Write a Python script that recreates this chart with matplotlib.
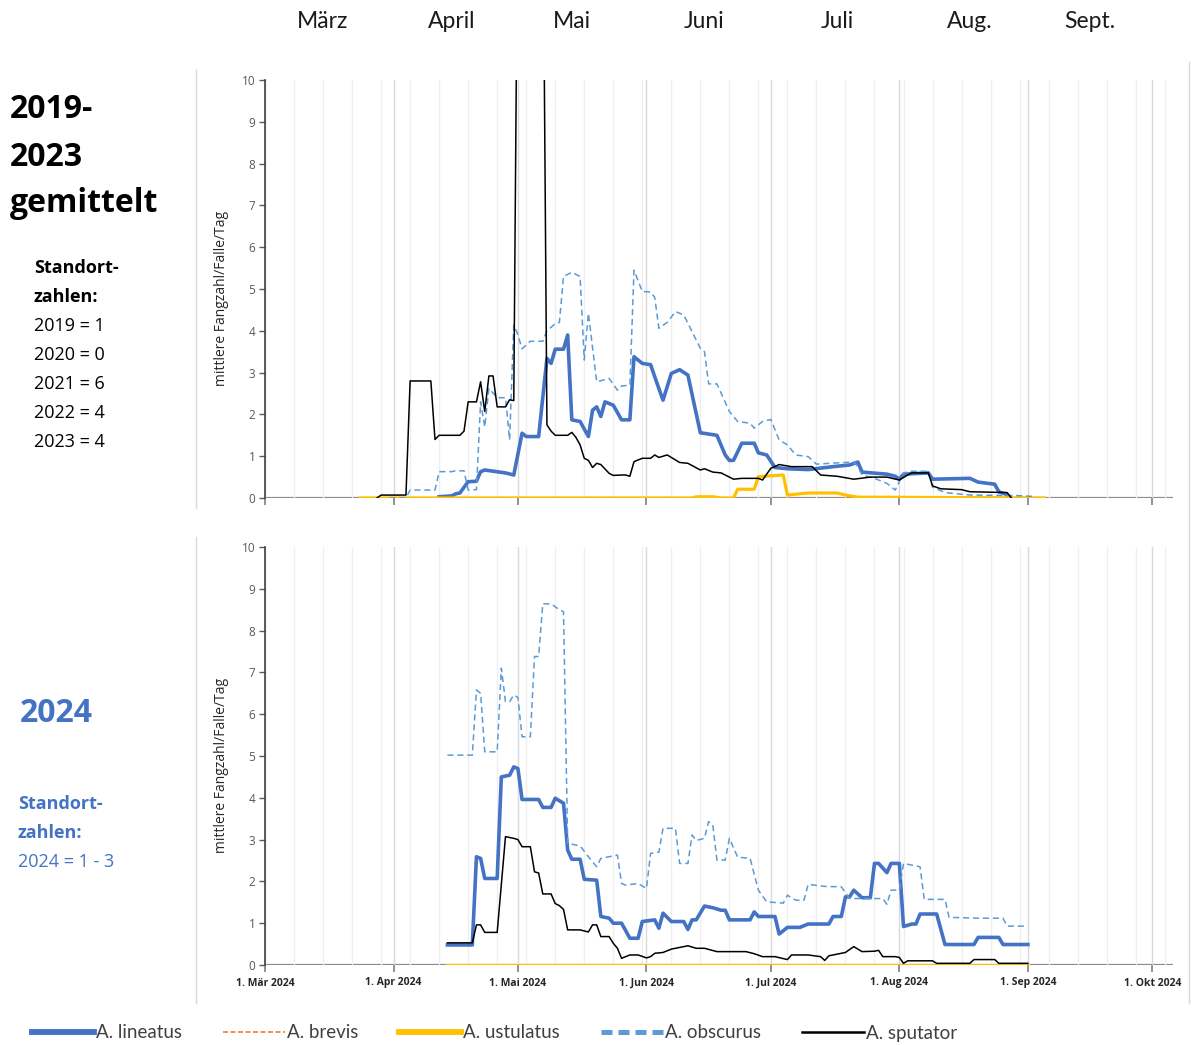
import datetime as dt
import matplotlib
matplotlib.use("Agg")
import matplotlib.pyplot as plt
from matplotlib.lines import Line2D
from matplotlib.transforms import blended_transform_factory

# Farben (Excel Standard)
BLAU = "#4472C4"
HELLBLAU = "#5B9BD5"
ORANGE = "#ED7D31"
GELB = "#FFC000"
SCHWARZ = "#000000"

arten = ["A. lineatus", "A. brevis", "A. ustulatus", "A. obscurus", "A. sputator"]

monat_namen = ["März", "April", "Mai", "Juni", "Juli", "Aug.", "Sept."]
monat_tag = [15, 15, 14, 15, 17, 18, 16]
monats_ticks = ["1. Mär 2024", "1. Apr 2024", "1. Mai 2024", "1. Jun 2024",
                "1. Jul 2024", "1. Aug 2024", "1. Sep 2024", "1. Okt 2024"]

links_oben = ["2019-", "2023", "gemittelt"]
standorte_oben = ["2019 = 1", "2020 = 0", "2021 = 6", "2022 = 4", "2023 = 4"]
links_unten = "2024"
standorte_unten = ["2024 = 1 - 3"]

# ---------------- 2019-2023 gemittelt ----------------
m_lin_tage = ["04-12", "04-15", "04-16", "04-17", "04-19", "04-21", "04-22", "04-23", "04-28", "04-30",
              "05-02", "05-03", "05-06", "05-08", "05-09", "05-10", "05-12", "05-13", "05-14", "05-16",
              "05-18", "05-19", "05-20", "05-21", "05-22", "05-24", "05-26", "05-28", "05-29", "05-31",
              "06-02", "06-03", "06-05", "06-07", "06-09", "06-11", "06-14", "06-18", "06-20", "06-21",
              "06-22", "06-24", "06-27", "06-28", "06-30", "07-02", "07-05", "07-10", "07-16", "07-20",
              "07-22", "07-23", "07-29", "07-31", "08-01", "08-02", "08-08", "08-09", "08-18", "08-20",
              "08-24", "08-25", "08-27", "08-28"]
m_lin_werte = [0.03, 0.05, 0.1, 0.12, 0.39, 0.4, 0.63, 0.67, 0.6, 0.55,
               1.55, 1.47, 1.47, 3.34, 3.22, 3.56, 3.56, 3.9, 1.87, 1.83,
               1.47, 2.1, 2.18, 1.95, 2.3, 2.22, 1.87, 1.87, 3.38, 3.22,
               3.19, 2.9, 2.34, 2.98, 3.07, 2.94, 1.56, 1.5, 1.03, 0.9,
               0.9, 1.31, 1.31, 1.08, 1.03, 0.73, 0.7, 0.68, 0.75, 0.79,
               0.86, 0.62, 0.57, 0.52, 0.45, 0.57, 0.6, 0.45, 0.47, 0.38,
               0.33, 0.15, 0.08, 0.0]

m_bre_tage = ["03-24", "09-05"]
m_bre_werte = [0.0, 0.0]

m_ust_tage = ["03-24", "06-12", "06-13", "06-17", "06-19", "06-22", "06-23", "06-27", "06-28", "07-04",
              "07-05", "07-10", "07-17", "07-19", "07-22", "09-05"]
m_ust_werte = [0.0, 0.0, 0.03, 0.03, 0.0, 0.0, 0.21, 0.21, 0.51, 0.55,
               0.07, 0.12, 0.12, 0.07, 0.02, 0.0]

m_obs_tage = ["03-31", "04-04", "04-05", "04-11", "04-12", "04-15", "04-16", "04-18", "04-19", "04-21",
              "04-22", "04-23", "04-24", "04-26", "04-28", "04-29", "04-30", "05-01", "05-02", "05-04",
              "05-07", "05-08", "05-10", "05-11", "05-12", "05-14", "05-16", "05-17", "05-18", "05-20",
              "05-23", "05-25", "05-26", "05-28", "05-29", "05-31", "06-02", "06-03", "06-04", "06-06",
              "06-08", "06-10", "06-12", "06-14", "06-15", "06-16", "06-18", "06-21", "06-23", "06-26",
              "06-27", "06-29", "07-01", "07-03", "07-05", "07-07", "07-10", "07-12", "07-17", "07-21",
              "07-22", "07-23", "07-26", "07-29", "07-31", "08-02", "08-04", "08-08", "08-09", "08-12",
              "08-18", "08-29", "09-02"]
m_obs_werte = [0.0, 0.0, 0.19, 0.19, 0.63, 0.63, 0.65, 0.65, 0.19, 0.2,
               2.3, 1.7, 2.62, 2.4, 2.4, 1.39, 4.14, 3.9, 3.57, 3.75,
               3.75, 4.0, 4.17, 4.2, 5.3, 5.4, 5.3, 3.3, 4.42, 2.78,
               2.86, 2.58, 2.68, 2.7, 5.45, 4.94, 4.93, 4.8, 4.06, 4.2,
               4.46, 4.38, 3.98, 3.58, 3.5, 2.73, 2.73, 2.07, 1.83, 1.79,
               1.67, 1.83, 1.88, 1.39, 1.27, 1.03, 0.99, 0.81, 0.84, 0.86,
               0.75, 0.55, 0.47, 0.35, 0.19, 0.6, 0.64, 0.64, 0.26, 0.13,
               0.07, 0.06, 0.04]

m_spu_tage = ["03-28", "03-29", "04-04", "04-05", "04-10", "04-11", "04-12", "04-17", "04-18", "04-19",
              "04-21", "04-22", "04-23", "04-24", "04-25", "04-26", "04-28", "04-29", "04-30", "05-01",
              "05-07", "05-08", "05-09", "05-10", "05-13", "05-14", "05-15", "05-16", "05-17", "05-18",
              "05-19", "05-20", "05-21", "05-23", "05-24", "05-26", "05-27", "05-28", "05-29", "05-31",
              "06-02", "06-03", "06-04", "06-06", "06-09", "06-11", "06-14", "06-15", "06-17", "06-19",
              "06-22", "06-24", "06-28", "06-29", "07-01", "07-03", "07-06", "07-11", "07-13", "07-17",
              "07-21", "07-25", "07-29", "08-01", "08-03", "08-04", "08-08", "08-09", "08-11", "08-16",
              "08-18", "08-27", "08-28"]
m_spu_werte = [0.0, 0.07, 0.07, 2.8, 2.8, 1.4, 1.5, 1.5, 1.6, 2.3,
               2.3, 2.78, 2.07, 2.92, 2.92, 2.18, 2.18, 2.35, 2.33, 15.0,
               15.0, 1.75, 1.6, 1.5, 1.5, 1.57, 1.45, 1.27, 0.95, 0.9,
               0.73, 0.83, 0.8, 0.59, 0.54, 0.55, 0.55, 0.52, 0.87, 0.95,
               0.95, 1.03, 0.97, 1.03, 0.85, 0.83, 0.67, 0.7, 0.62, 0.6,
               0.45, 0.47, 0.47, 0.43, 0.71, 0.8, 0.75, 0.75, 0.55, 0.52,
               0.45, 0.5, 0.5, 0.43, 0.55, 0.6, 0.6, 0.29, 0.22, 0.2,
               0.15, 0.13, 0.0]

# ---------------- 2024 ----------------
j_lin_tage = ["04-14", "04-20", "04-21", "04-22", "04-23", "04-26", "04-27", "04-29", "04-30", "05-01",
              "05-02", "05-06", "05-07", "05-09", "05-10", "05-12", "05-13", "05-14", "05-16", "05-17",
              "05-20", "05-21", "05-23", "05-24", "05-26", "05-28", "05-30", "05-31", "06-03", "06-04",
              "06-05", "06-07", "06-10", "06-11", "06-12", "06-13", "06-15", "06-17", "06-19", "06-20",
              "06-21", "06-26", "06-27", "06-28", "07-02", "07-03", "07-05", "07-08", "07-10", "07-15",
              "07-16", "07-18", "07-19", "07-20", "07-21", "07-23", "07-25", "07-26", "07-27", "07-29",
              "07-30", "08-01", "08-02", "08-04", "08-05", "08-06", "08-10", "08-12", "08-19", "08-20",
              "08-25", "08-26", "09-01"]
j_lin_werte = [0.48, 0.48, 2.59, 2.55, 2.07, 2.07, 4.5, 4.54, 4.74, 4.7,
               3.96, 3.96, 3.77, 3.77, 3.99, 3.87, 2.75, 2.53, 2.53, 2.05,
               2.03, 1.16, 1.12, 1.0, 1.0, 0.64, 0.64, 1.04, 1.08, 0.88,
               1.24, 1.04, 1.04, 0.85, 1.08, 1.08, 1.41, 1.37, 1.31, 1.31,
               1.08, 1.08, 1.27, 1.16, 1.16, 0.74, 0.9, 0.9, 0.98, 0.98,
               1.16, 1.16, 1.63, 1.63, 1.79, 1.61, 1.61, 2.43, 2.43, 2.21,
               2.43, 2.43, 0.92, 0.98, 0.98, 1.22, 1.22, 0.49, 0.49, 0.66,
               0.66, 0.49, 0.49]

j_bre_tage = ["04-14", "09-01"]
j_bre_werte = [0.0, 0.0]

j_ust_tage = ["04-14", "09-01"]
j_ust_werte = [0.0, 0.0]

j_obs_tage = ["04-14", "04-20", "04-21", "04-22", "04-23", "04-26", "04-27", "04-28", "04-29", "04-30",
              "05-01", "05-02", "05-04", "05-05", "05-06", "05-07", "05-09", "05-11", "05-12", "05-13",
              "05-16", "05-18", "05-20", "05-21", "05-25", "05-26", "05-27", "05-30", "06-01", "06-02",
              "06-04", "06-05", "06-08", "06-09", "06-11", "06-12", "06-13", "06-15", "06-16", "06-17",
              "06-18", "06-20", "06-21", "06-23", "06-26", "06-28", "06-30", "07-04", "07-05", "07-07",
              "07-09", "07-10", "07-14", "07-18", "07-20", "07-28", "07-29", "07-30", "08-01", "08-02",
              "08-06", "08-07", "08-12", "08-13", "08-20", "08-26", "08-27", "09-01"]
j_obs_werte = [5.02, 5.02, 6.58, 6.5, 5.1, 5.1, 7.1, 6.3, 6.3, 6.46,
               6.4, 5.46, 5.46, 7.38, 7.38, 8.64, 8.64, 8.5, 8.45, 2.91,
               2.85, 2.59, 2.35, 2.55, 2.63, 1.95, 1.91, 1.95, 1.83, 2.67,
               2.7, 3.27, 3.27, 2.43, 2.43, 3.11, 2.98, 3.03, 3.43, 3.35,
               2.51, 2.51, 3.03, 2.58, 2.55, 1.79, 1.51, 1.48, 1.67, 1.55,
               1.55, 1.93, 1.88, 1.87, 1.59, 1.59, 1.45, 1.79, 1.79, 2.43,
               2.35, 1.57, 1.57, 1.14, 1.12, 1.12, 0.93, 0.93]

j_spu_tage = ["04-14", "04-20", "04-21", "04-22", "04-23", "04-26", "04-28", "04-30", "05-01", "05-02",
              "05-04", "05-05", "05-06", "05-07", "05-09", "05-10", "05-11", "05-12", "05-13", "05-16",
              "05-18", "05-19", "05-20", "05-21", "05-23", "05-24", "05-25", "05-26", "05-28", "05-30",
              "06-01", "06-02", "06-03", "06-05", "06-07", "06-09", "06-11", "06-13", "06-15", "06-18",
              "06-25", "06-27", "06-29", "07-02", "07-05", "07-06", "07-10", "07-13", "07-14", "07-15",
              "07-19", "07-21", "07-23", "07-26", "07-27", "07-28", "07-31", "08-01", "08-02", "08-03",
              "08-09", "08-10", "08-18", "08-19", "08-24", "08-25", "09-01"]
j_spu_werte = [0.53, 0.53, 0.96, 0.96, 0.78, 0.78, 3.07, 3.03, 3.0, 2.83,
               2.83, 2.23, 2.2, 1.7, 1.7, 1.47, 1.42, 1.33, 0.84, 0.84,
               0.79, 0.96, 0.96, 0.68, 0.68, 0.52, 0.4, 0.16, 0.24, 0.24,
               0.17, 0.2, 0.28, 0.3, 0.38, 0.42, 0.46, 0.4, 0.4, 0.32,
               0.32, 0.27, 0.2, 0.2, 0.13, 0.24, 0.24, 0.2, 0.11, 0.22,
               0.3, 0.44, 0.32, 0.33, 0.35, 0.2, 0.2, 0.18, 0.04, 0.1,
               0.1, 0.04, 0.04, 0.13, 0.13, 0.04, 0.04]


def datum(tage):
    return [dt.date(2024, int(t[:2]), int(t[3:])) for t in tage]


# Linienstile pro Art: Farbe, Breite, Strichart
stil = {
    "A. lineatus": dict(color=BLAU, lw=2.6, ls="-"),
    "A. brevis": dict(color=ORANGE, lw=1.0, ls=(0, (3, 2))),
    "A. ustulatus": dict(color=GELB, lw=2.3, ls="-"),
    "A. obscurus": dict(color=HELLBLAU, lw=1.1, ls=(0, (4, 2.5))),
    "A. sputator": dict(color=SCHWARZ, lw=1.1, ls="-"),
}

oben = [(m_lin_tage, m_lin_werte), (m_bre_tage, m_bre_werte), (m_ust_tage, m_ust_werte),
        (m_obs_tage, m_obs_werte), (m_spu_tage, m_spu_werte)]
unten = [(j_lin_tage, j_lin_werte), (j_bre_tage, j_bre_werte), (j_ust_tage, j_ust_werte),
         (j_obs_tage, j_obs_werte), (j_spu_tage, j_spu_werte)]

SCHRIFT = ["Open Sans", "DejaVu Sans"]

W, H = 1192, 1045
fig = plt.figure(figsize=(W / 100, H / 100), dpi=100)
ax1 = fig.add_axes([265 / W, 1 - 498 / H, 908 / W, 418 / H])
ax2 = fig.add_axes([265 / W, 1 - 965 / H, 908 / W, 418 / H])

monatsanfang = [dt.date(2024, m, 1) for m in range(3, 11)]
wochen = [dt.date(2024, 3, 1) + dt.timedelta(days=7 * k) for k in range(1, 32)]

for ax, serien in [(ax1, oben), (ax2, unten)]:
    # Achsenlinie zuerst, Serien darüber
    ax.axhline(0, color="#8C8C8C", lw=1.6, zorder=1)
    for z, (art, (tage, werte)) in enumerate(zip(arten, serien)):
        s = stil[art]
        ax.plot(datum(tage), werte, color=s["color"], lw=s["lw"], ls=s["ls"],
                zorder=3 + z, solid_joinstyle="round")
    ax.set_xlim(dt.date(2024, 3, 1), dt.date(2024, 10, 6))
    ax.set_ylim(0, 10)
    ax.set_yticks(range(0, 11))
    ax.set_xticks(monatsanfang)
    ax.set_xticks(wochen, minor=True)
    ax.grid(which="minor", axis="x", color="#EEEEEE", lw=0.9, zorder=0)
    ax.grid(which="major", axis="x", color="#D9D9D9", lw=1.0, zorder=0)
    ax.tick_params(axis="x", which="minor", length=0)
    ax.tick_params(axis="x", which="major", length=5, width=1.2, color="#7F7F7F", direction="out")
    ax.tick_params(axis="y", length=4, width=1.0, color="#595959", labelsize=8.5,
                   labelcolor="#595959", pad=3)
    for sp in ["top", "right", "bottom"]:
        ax.spines[sp].set_visible(False)
    ax.spines["left"].set_color("#404040")
    ax.spines["left"].set_linewidth(1.2)
    ax.set_ylabel("mittlere Fangzahl/Falle/Tag", fontsize=10, color="#262626", family=SCHRIFT)
    ax.yaxis.set_label_coords(-36 / 908, 0.478)
    for t in ax.get_yticklabels():
        t.set_family(SCHRIFT)

ax1.set_xticklabels([])
ax2.set_xticklabels(monats_ticks, fontsize=7.5, fontweight="bold", color="#262626", family=SCHRIFT)
ax2.tick_params(axis="x", which="major", pad=4)

# Monatsnamen über dem oberen Diagramm
trans = blended_transform_factory(ax1.transData, fig.transFigure)
for name, tag, m in zip(monat_namen, monat_tag, range(3, 10)):
    ax1.text(dt.date(2024, m, tag), 1 - 21 / H, name, transform=trans, ha="center", va="center",
             fontsize=16.5, color="#1a1a1a", family=["Lato", "DejaVu Sans"])

# Texte links
for i, t in enumerate(links_oben):
    fig.text(10 / W, 1 - (110 + 47 * i) / H, t, ha="left", va="center", fontsize=23,
             fontweight="bold", color="black", family=SCHRIFT)
fig.text(34 / W, 1 - 268 / H, "Standort-", ha="left", va="center", fontsize=13,
         fontweight="bold", color="black", family=SCHRIFT)
fig.text(34 / W, 1 - 297 / H, "zahlen:", ha="left", va="center", fontsize=13,
         fontweight="bold", color="black", family=SCHRIFT)
for i, t in enumerate(standorte_oben):
    fig.text(34 / W, 1 - (326 + 29 * i) / H, t, ha="left", va="center", fontsize=13,
             color="black", family=SCHRIFT)

fig.text(20 / W, 1 - 714 / H, links_unten, ha="left", va="center", fontsize=23,
         fontweight="bold", color=BLAU, family=SCHRIFT)
fig.text(18 / W, 1 - 804 / H, "Standort-", ha="left", va="center", fontsize=13,
         fontweight="bold", color=BLAU, family=SCHRIFT)
fig.text(18 / W, 1 - 833 / H, "zahlen:", ha="left", va="center", fontsize=13,
         fontweight="bold", color=BLAU, family=SCHRIFT)
fig.text(18 / W, 1 - 862 / H, standorte_unten[0], ha="left", va="center", fontsize=13,
         color=BLAU, family=SCHRIFT)

# Rahmenlinien der eingefügten Diagramme
rahmen = dict(color="#D9D9D9", lw=1.0)
fig.add_artist(Line2D([196 / W, 196 / W], [1 - 70 / H, 1 - 508 / H], **rahmen))
fig.add_artist(Line2D([196 / W, 196 / W], [1 - 537 / H, 1 - 1003 / H], **rahmen))
fig.add_artist(Line2D([1189 / W, 1189 / W], [1 - 62 / H, 1 - 1003 / H], **rahmen))

# Legende
griffe = [
    Line2D([], [], color=BLAU, lw=4.2),
    Line2D([], [], color=ORANGE, lw=1.2, ls=(0, (3, 1.5))),
    Line2D([], [], color=GELB, lw=4.2),
    Line2D([], [], color=HELLBLAU, lw=3.6, ls=(0, (2.2, 1.2))),
    Line2D([], [], color=SCHWARZ, lw=1.8),
]
fig.legend(griffe, arten, loc="center left", bbox_to_anchor=(15 / W, 1 - 1033 / H), ncol=5,
           frameon=False, handlelength=3.3, handletextpad=0.1, columnspacing=2.2,
           prop=dict(family=["Lato", "DejaVu Sans"], size=13.5),
           labelcolor="#404040")

fig.savefig("out.png", dpi=100)
